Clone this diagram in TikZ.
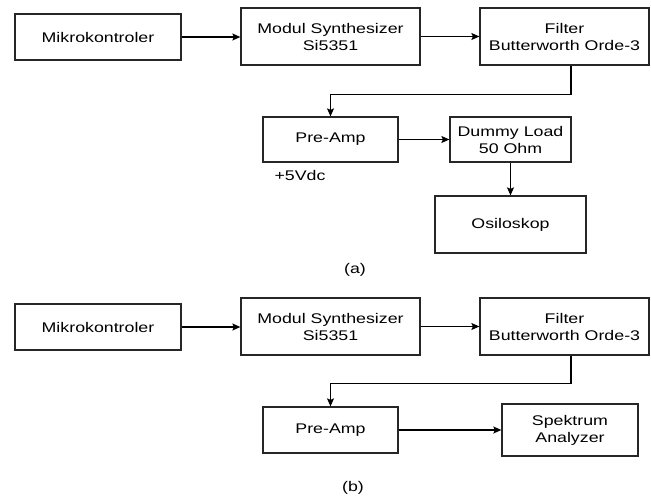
\documentclass[tikz,border=0pt]{standalone}
\usepackage{fontspec}
\setmainfont[FakeStretch=1.27]{Liberation Sans}
\usetikzlibrary{arrows.meta,calc}
\begin{document}
\begin{tikzpicture}[x=1pt,y=-1pt,
  box/.style={draw=black!85,line width=1.3pt,fill=white,align=center,inner sep=0pt,
    font=\fontsize{14}{17}\selectfont},
  lbl/.style={font=\fontsize{14}{17}\selectfont,inner sep=0pt},
  arr/.style={draw=black,line width=1.2pt,-{Stealth[length=8pt,width=7pt,inset=1.5pt]}}]
\useasboundingbox[fill=white] (0,0) rectangle (651,499);
% ---------- (a)
\node[box,minimum width=166,minimum height=46] (mikA) at (98,37) {Mikrokontroler};
\node[box,minimum width=179,minimum height=57] (modA) at (330.5,36.5) {Modul Synthesizer\\Si5351};
\node[box,minimum width=169,minimum height=57] (filA) at (564.5,36.5) {Filter\\Butterworth Orde-3};
\node[box,minimum width=135,minimum height=45] (preA) at (330.5,139.5) {Pre-Amp};
\node[box,minimum width=121,minimum height=45] (dumA) at (510.5,139.5) {Dummy Load\\50 Ohm};
\node[box,minimum width=151,minimum height=57] (oscA) at (510.5,224.5) {Osiloskop};
\node[lbl] (vdc) at (300,175) {+5Vdc};
\node[lbl] (capA) at (355,270) {(a)};
\draw[arr] (mikA.east) -- (mikA.east -| modA.west);
\draw[arr] (modA.east |- filA.west) -- (filA.west);
\draw[arr] ([xshift=6.5pt]filA.south) -- ++(0,29) -| (preA.north);
\draw[arr] (preA.east) -- (dumA.west);
\draw[arr] (dumA.south) -- (oscA.north);
% ---------- (b)
\node[box,minimum width=166,minimum height=46] (mikB) at (98,327) {Mikrokontroler};
\node[box,minimum width=179,minimum height=57] (modB) at (330.5,326.5) {Modul Synthesizer\\Si5351};
\node[box,minimum width=169,minimum height=57] (filB) at (564.5,326.5) {Filter\\Butterworth Orde-3};
\node[box,minimum width=135,minimum height=46] (preB) at (330.5,430) {Pre-Amp};
\node[box,minimum width=136,minimum height=52] (speB) at (570,430) {Spektrum\\Analyzer};
\node[lbl] (capB) at (353,488) {(b)};
\draw[arr] (mikB.east) -- (mikB.east -| modB.west);
\draw[arr] (modB.east |- filB.west) -- (filB.west);
\draw[arr] ([xshift=6.5pt]filB.south) -- ++(0,28) -| (preB.north);
\draw[arr] (preB.east) -- (speB.west);
\end{tikzpicture}
\end{document}
